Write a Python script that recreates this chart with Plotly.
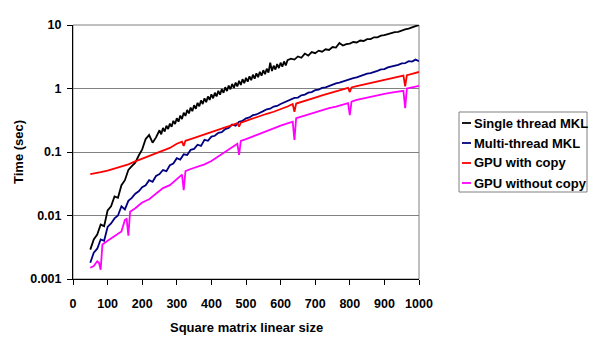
import plotly.graph_objects as go

# ---------------- data ----------------
x_single = list(range(50, 250, 10)) + list(range(250, 621, 5)) + list(range(630, 1001, 10))
single_thread = [
    # 50 .. 240 (step 10)
    0.0029, 0.0042, 0.0050, 0.0072, 0.0068, 0.012, 0.014, 0.020, 0.019, 0.030,
    0.036, 0.052, 0.060, 0.068, 0.088, 0.110, 0.16, 0.185, 0.14, 0.17,
    # 250 .. 620 (step 5)
    0.22, 0.19, 0.24, 0.21, 0.26, 0.23, 0.28, 0.25, 0.31, 0.275,
    0.34, 0.30, 0.375, 0.33, 0.415, 0.37, 0.46, 0.405, 0.50, 0.44,
    0.545, 0.48, 0.595, 0.525, 0.65, 0.57, 0.70, 0.61, 0.75, 0.66,
    0.81, 0.70, 0.86, 0.75, 0.92, 0.80, 0.98, 0.855, 1.05, 0.91,
    1.11, 0.97, 1.18, 1.02, 1.24, 1.08, 1.32, 1.14, 1.40, 1.21,
    1.47, 1.28, 1.56, 1.35, 1.65, 1.43, 1.73, 1.51, 1.83, 1.59,
    1.94, 1.68, 2.05, 1.78, 2.55, 1.88, 2.29, 1.99, 2.42, 2.10,
    2.55, 2.20, 2.67, 2.31, 2.80,
    # 630 .. 1000 (step 10)
    2.95, 2.85, 3.20, 3.05, 3.55, 3.30, 3.75, 3.60, 3.95, 3.80,
    4.15, 4.05, 4.50, 4.40, 5.20, 4.75, 5.00, 5.10, 5.40, 5.30,
    5.70, 5.60, 6.00, 6.00, 6.40, 6.40, 6.80, 6.90, 7.20, 7.30,
    7.70, 7.80, 8.20, 8.50, 8.80, 9.30, 9.60, 10.0,
]
x_multi = list(range(50, 1001, 10))
multi_thread = [
    0.0018, 0.0026, 0.0030, 0.0042, 0.0040, 0.0066, 0.0075, 0.0090, 0.0100, 0.0140,
    0.0125, 0.0170, 0.0190, 0.0220, 0.0240, 0.028, 0.030, 0.036, 0.034, 0.042,
    0.045, 0.052, 0.050, 0.062, 0.066, 0.080, 0.076, 0.092, 0.090, 0.108,
    0.112, 0.130, 0.125, 0.155, 0.150, 0.175, 0.180, 0.200, 0.205, 0.230,
    0.240, 0.270, 0.260, 0.300, 0.310, 0.340, 0.350, 0.380, 0.390, 0.420,
    0.440, 0.470, 0.480, 0.520, 0.530, 0.570, 0.600, 0.630, 0.660, 0.710,
    0.720, 0.780, 0.800, 0.860, 0.880, 0.940, 0.960, 1.02, 1.04, 1.10,
    1.14, 1.20, 1.24, 1.30, 1.34, 1.40, 1.46, 1.50, 1.58, 1.62,
    1.72, 1.75, 1.85, 1.90, 2.00, 2.02, 2.15, 2.20, 2.30, 2.35,
    2.48, 2.50, 2.70, 2.65, 2.85, 2.70,
]
x_gpu_copy = [50, 60, 70, 80, 100, 120, 140, 160, 180, 200, 220, 240, 260, 280, 300,
              315, 320, 325, 340, 360, 380, 400, 420, 440, 460, 475, 480, 485, 500,
              520, 540, 560, 580, 600, 620, 635, 640, 645, 660, 680, 700, 720, 740,
              760, 780, 795, 800, 805, 820, 840, 860, 880, 900, 920, 940, 955, 960,
              965, 980, 1000]
gpu_copy = [0.045, 0.046, 0.046, 0.048, 0.051, 0.055, 0.059, 0.064, 0.071, 0.078,
            0.086, 0.095, 0.105, 0.116, 0.135, 0.145, 0.125, 0.150, 0.160, 0.175,
            0.190, 0.205, 0.225, 0.245, 0.265, 0.285, 0.250, 0.290, 0.310, 0.340,
            0.370, 0.400, 0.430, 0.470, 0.520, 0.570, 0.430, 0.580, 0.620, 0.670,
            0.720, 0.780, 0.840, 0.900, 0.970, 1.02, 0.88, 1.04, 1.09, 1.15,
            1.22, 1.29, 1.36, 1.44, 1.52, 1.60, 1.08, 1.62, 1.70, 1.82]
x_gpu_nocopy = [50, 60, 70, 75, 80, 85, 100, 120, 140, 150, 155, 160, 165, 180, 200,
                220, 240, 260, 280, 300, 310, 315, 320, 325, 340, 360, 380, 400, 420,
                440, 460, 475, 480, 485, 500, 520, 540, 560, 580, 600, 620, 635, 640,
                645, 660, 680, 700, 720, 740, 760, 780, 795, 800, 805, 820, 840, 860,
                880, 900, 920, 940, 955, 960, 965, 980, 1000]
gpu_nocopy = [0.0015, 0.0016, 0.0019, 0.0018, 0.0014, 0.0035, 0.0040, 0.0048, 0.0056, 0.0085,
              0.0088, 0.0048, 0.0115, 0.013, 0.016, 0.018, 0.022, 0.027, 0.030, 0.038,
              0.042, 0.044, 0.025, 0.050, 0.054, 0.058, 0.064, 0.072, 0.085, 0.100,
              0.118, 0.135, 0.090, 0.150, 0.160, 0.175, 0.195, 0.210, 0.235, 0.260,
              0.280, 0.300, 0.155, 0.340, 0.360, 0.390, 0.420, 0.450, 0.490, 0.520,
              0.560, 0.590, 0.380, 0.620, 0.660, 0.700, 0.740, 0.780, 0.820, 0.860,
              0.890, 0.920, 0.490, 1.00, 1.04, 1.10]

series_names = ["Single thread MKL", "Multi-thread MKL", "GPU with copy", "GPU without copy"]
series_colors = ["#000000", "#000080", "#ff0000", "#ff00ff"]
x_ticks = list(range(0, 1001, 100))
y_ticks = [0.001, 0.01, 0.1, 1, 10]
y_tick_labels = ["0.001", "0.01", "0.1", "1", "10"]

FONT = "Liberation Sans, Arial, sans-serif"

fig = go.Figure()
for xs, ys, name, col in zip([x_single, x_multi, x_gpu_copy, x_gpu_nocopy],
                             [single_thread, multi_thread, gpu_copy, gpu_nocopy],
                             series_names, series_colors):
    fig.add_trace(go.Scatter(x=xs, y=ys, mode="lines", name=name,
                             line=dict(color=col, width=1.8), showlegend=False))

fig.update_layout(
    width=604, height=338,
    margin=dict(l=73, r=185, t=25, b=59),
    paper_bgcolor="white", plot_bgcolor="white",
    font=dict(family=FONT, size=12, color="black"),
    xaxis=dict(range=[0, 1000], tickvals=x_ticks, ticks="outside", ticklen=5,
               tickcolor="black", showline=True, linecolor="black", linewidth=1,
               showgrid=False, zeroline=False, ticklabelstandoff=8,
               tickfont=dict(family=FONT, size=12.5, color="black", weight="bold")),
    yaxis=dict(type="log", range=[-3, 1], tickvals=y_ticks, ticktext=y_tick_labels,
               ticks="outside", ticklen=5, tickcolor="black", showline=True,
               linecolor="black", linewidth=1, showgrid=True, gridcolor="#808080",
               gridwidth=1, zeroline=False, ticklabelstandoff=3,
               tickfont=dict(family=FONT, size=12.5, color="black", weight="bold")),
)

# plot-area frame
fig.add_shape(type="rect", xref="paper", yref="paper", x0=0, x1=1, y0=0, y1=1,
              line=dict(color="#808080", width=1), layer="below")

# axis titles
fig.add_annotation(text="<b>Square matrix linear size</b>", xref="paper", yref="paper",
                   x=0.5, y=-0.189, showarrow=False, xanchor="center", yanchor="middle",
                   font=dict(family=FONT, size=13, color="black"))
fig.add_annotation(text="<b>Time (sec)</b>", xref="paper", yref="paper",
                   x=-0.159, y=0.5, showarrow=False, textangle=-90,
                   xanchor="center", yanchor="middle",
                   font=dict(family=FONT, size=13, color="black"))

# legend (drawn manually)
px_w, px_h = 346.0, 254.0
def px2x(p):
    return (p - 73) / px_w
def py2y(p):
    return (279 - p) / px_h

fig.add_shape(type="rect", xref="paper", yref="paper",
              x0=px2x(459), x1=px2x(587), y0=py2y(192), y1=py2y(112),
              line=dict(color="#808080", width=1), fillcolor="white")
rows = [123, 143, 163, 183]
for name, col, r in zip(series_names, series_colors, rows):
    fig.add_shape(type="line", xref="paper", yref="paper",
                  x0=px2x(462), x1=px2x(471), y0=py2y(r), y1=py2y(r),
                  line=dict(color=col, width=1.8))
    fig.add_annotation(text="<b>" + name + "</b>", xref="paper", yref="paper",
                       x=px2x(472), y=py2y(r), showarrow=False,
                       xanchor="left", yanchor="middle",
                       font=dict(family=FONT, size=13, color="black"))

fig.write_html("out.html")
